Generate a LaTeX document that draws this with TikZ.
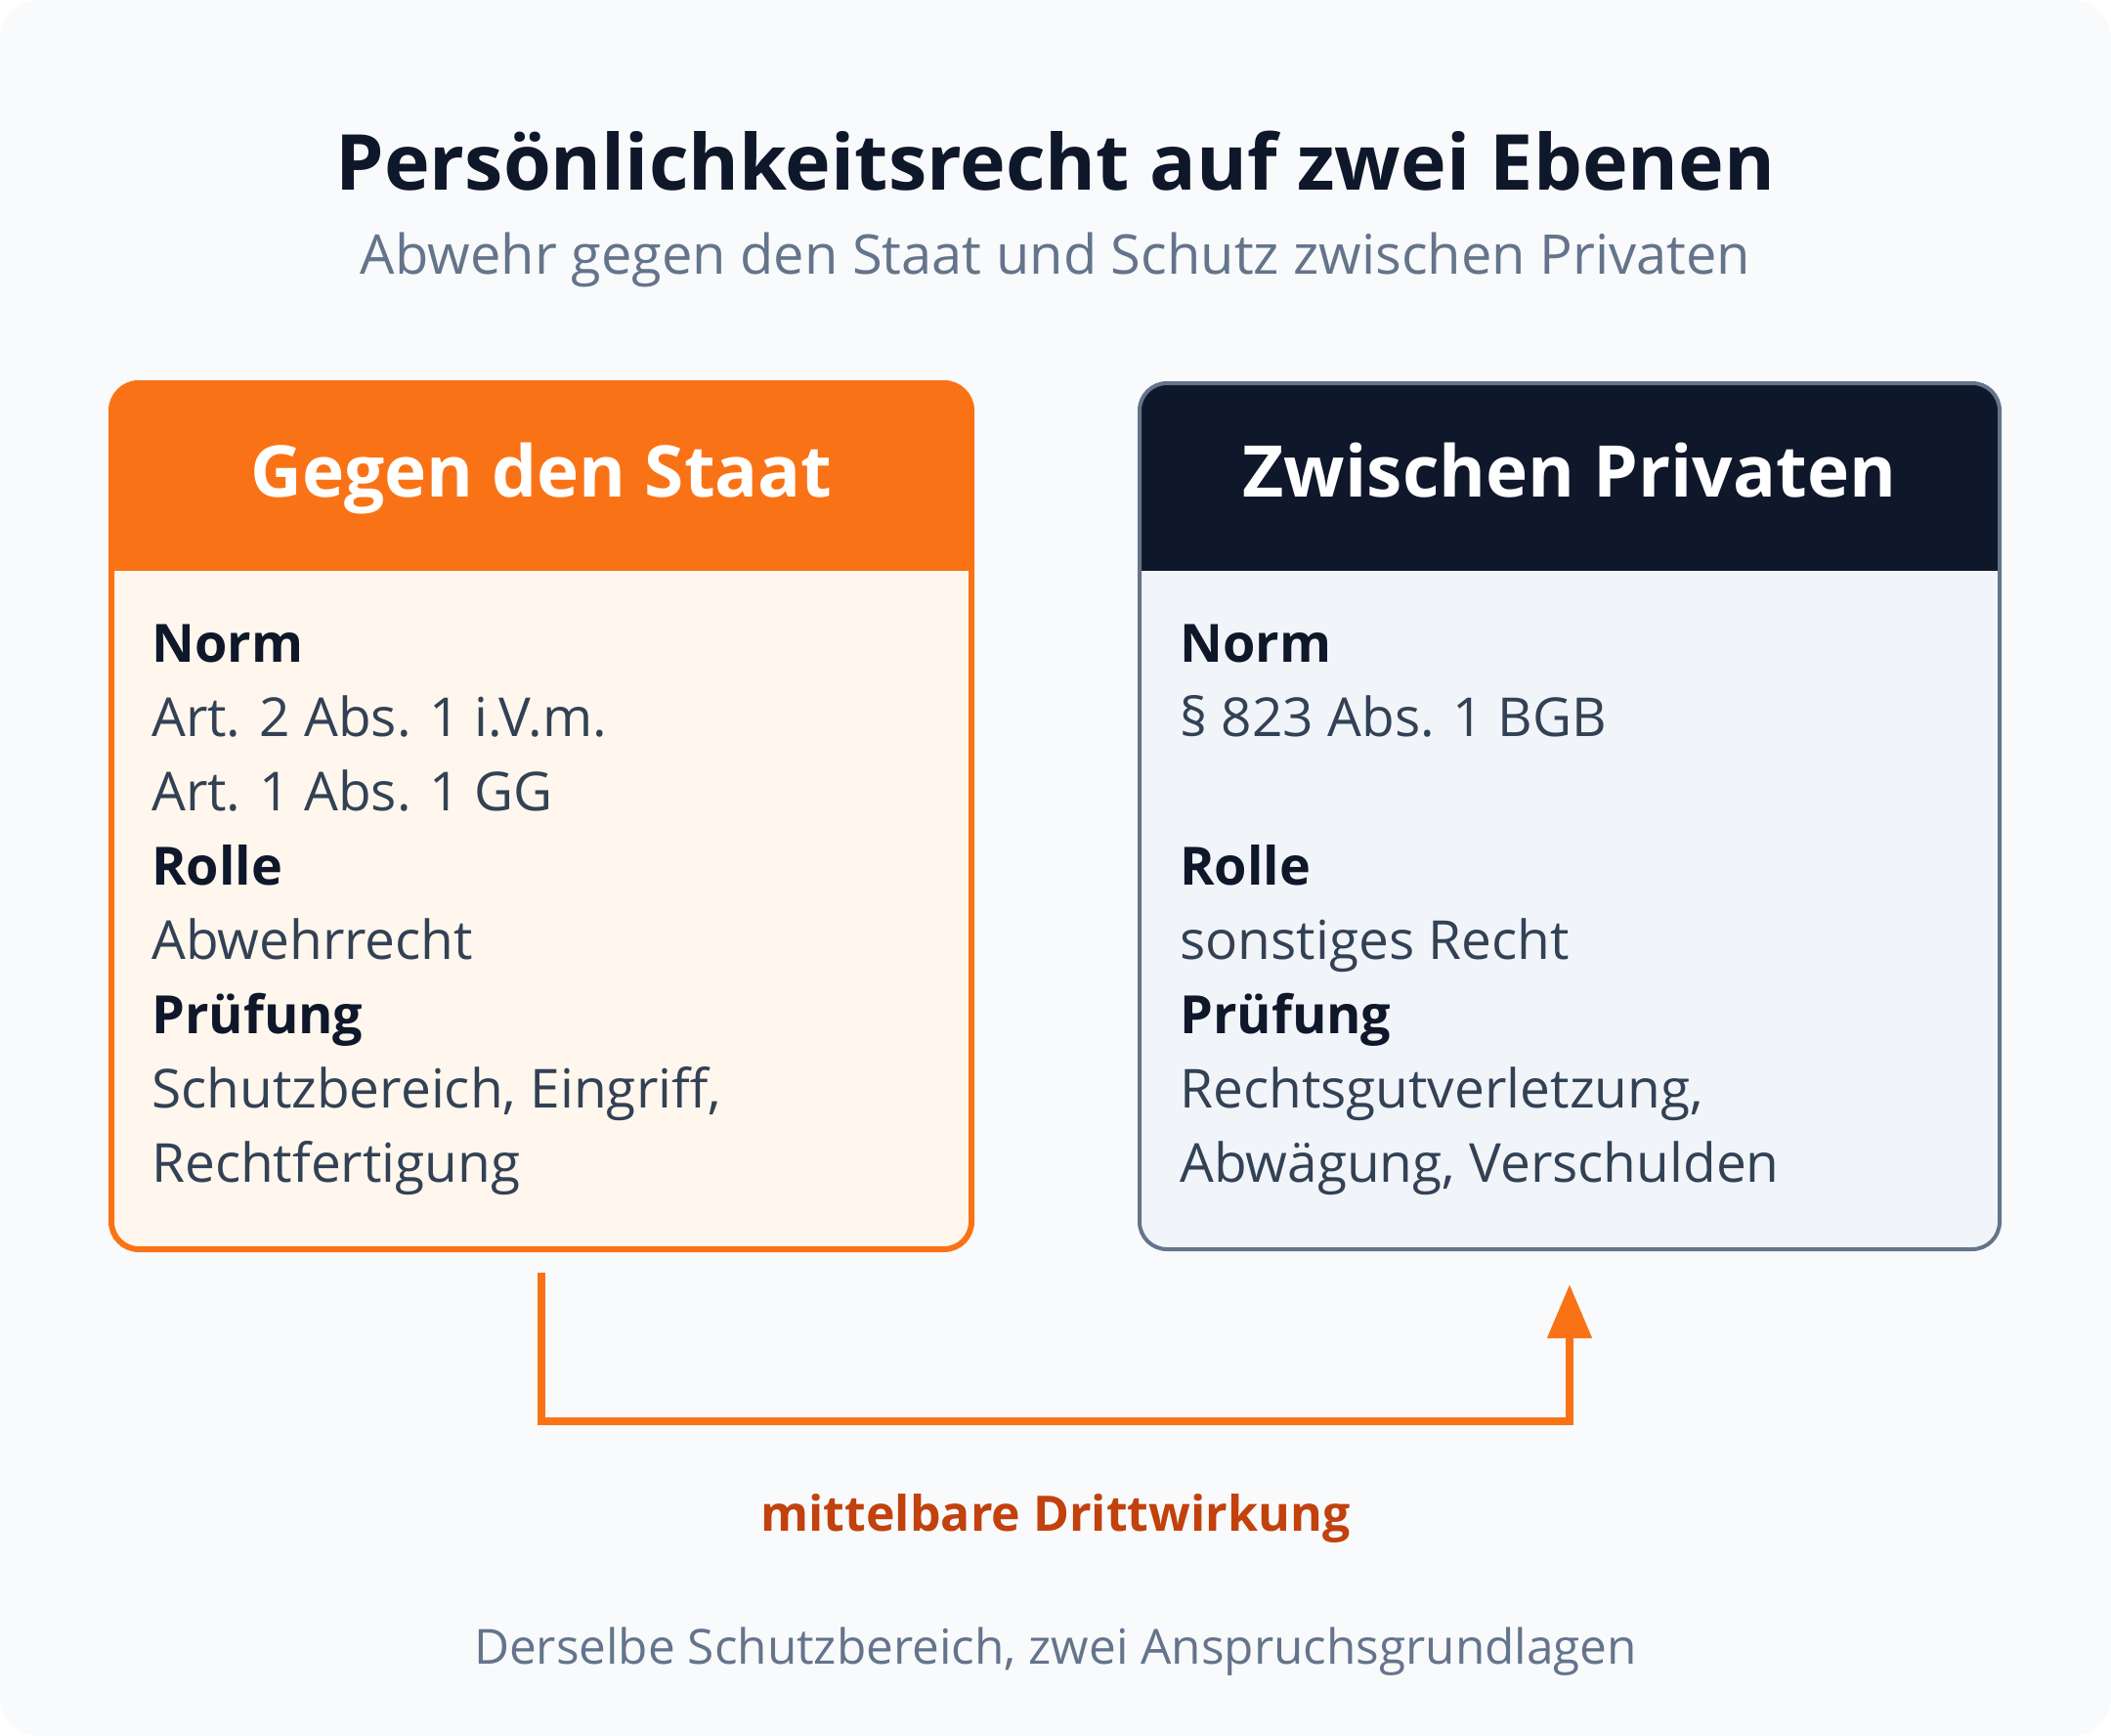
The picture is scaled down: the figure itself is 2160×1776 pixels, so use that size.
\documentclass[tikz,border=0pt]{standalone}
\usepackage{fontspec}
\setmainfont{Open Sans}
\usetikzlibrary{arrows.meta}

\definecolor{pagebg}{HTML}{F8FAFC}
\definecolor{ink}{HTML}{0F172A}
\definecolor{bodyink}{HTML}{334155}
\definecolor{muted}{HTML}{64748B}
\definecolor{orangeA}{HTML}{F97316}
\definecolor{orangeBg}{HTML}{FFF7ED}
\definecolor{orangeDk}{HTML}{C2410C}
\definecolor{slateBg}{HTML}{F1F5F9}

\begin{document}
\begin{tikzpicture}[x=1pt, y=-1pt,
    card/.style={rectangle, rounded corners=28pt, minimum width=880pt,
      minimum height=886pt, inner sep=0pt, outer sep=0pt},
    headtext/.style={anchor=base, inner sep=0pt, text=white,
      font=\fontsize{73}{86}\selectfont\bfseries},
    keytext/.style={anchor=base west, inner sep=0pt, text=ink,
      font=\fontsize{54}{64}\selectfont\bfseries},
    valtext/.style={anchor=base west, inner sep=0pt, text=bodyink,
      font=\fontsize{55}{65}\selectfont},
    link/.style={draw=orangeA, line width=8pt,
      -{Triangle[length=55pt,width=44pt]}}
  ]

    %% Two levels

    % Page
    \useasboundingbox (0,0) rectangle (2160,1776);
    \fill[white] (0,0) rectangle (2160,1776);
    \fill[pagebg, rounded corners=40pt] (0,0) rectangle (2160,1776);

    % Heading
    \node[anchor=base, inner sep=0pt, text=ink, font=\fontsize{79}{94}\selectfont\bfseries]
      (title) at (1080,195) {Persönlichkeitsrecht auf zwei Ebenen};
    \node[anchor=base, inner sep=0pt, text=muted, font=\fontsize{56}{67}\selectfont]
      (subtitle) at (1080,281) {Abwehr gegen den Staat und Schutz zwischen Privaten};

    % Left card
    \node[card, fill=orangeBg] (staat) at (554,835) {};
    \begin{scope}
      \clip[rounded corners=28pt] (staat.north west) rectangle (staat.south east);
      \fill[orangeA] (staat.north west) rectangle ([yshift=-192pt]staat.north east);
    \end{scope}
    \draw[orangeA, line width=6pt, rounded corners=28pt] (staat.north west) rectangle (staat.south east);
    \node[headtext] (staathead) at (554,508) {Gegen den Staat};

    \node[keytext] (staatnorm) at (155,677) {Norm};
    \node[valtext] (staatnorma) at (155,753) {Art. 2 Abs. 1 i.V.m.};
    \node[valtext] (staatnormb) at (155,829) {Art. 1 Abs. 1 GG};
    \node[keytext] (staatrolle) at (155,905) {Rolle};
    \node[valtext] (staatrollea) at (155,981) {Abwehrrecht};
    \node[keytext] (staatpruef) at (155,1057) {Prüfung};
    \node[valtext] (staatpruefa) at (155,1133) {Schutzbereich, Eingriff,};
    \node[valtext] (staatpruefb) at (155,1209) {Rechtfertigung};

    % Right card
    \node[card, fill=slateBg] (privat) at (1606,835) {};
    \begin{scope}
      \clip[rounded corners=28pt] (privat.north west) rectangle (privat.south east);
      \fill[ink] (privat.north west) rectangle ([yshift=-192pt]privat.north east);
    \end{scope}
    \draw[muted, line width=4pt, rounded corners=28pt] (privat.north west) rectangle (privat.south east);
    \node[headtext] (privathead) at (1606,508) {Zwischen Privaten};

    \node[keytext] (privatnorm) at (1207,677) {Norm};
    \node[valtext] (privatnorma) at (1207,753) {§ 823 Abs. 1 BGB};
    \node[keytext] (privatrolle) at (1207,905) {Rolle};
    \node[valtext] (privatrollea) at (1207,981) {sonstiges Recht};
    \node[keytext] (privatpruef) at (1207,1057) {Prüfung};
    \node[valtext] (privatpruefa) at (1207,1133) {Rechtsgutverletzung,};
    \node[valtext] (privatpruefb) at (1207,1209) {Abwägung, Verschulden};

    % Link
    \draw[link] ([yshift=-24pt]staat.south) -- ++(0,152) -| ([yshift=-36pt]privat.south);
    \node[anchor=base, inner sep=0pt, text=orangeDk, font=\fontsize{50}{60}\selectfont\bfseries]
      (drittwirkung) at (1080,1566) {mittelbare Drittwirkung};

    % Footer
    \node[anchor=base, inner sep=0pt, text=muted, font=\fontsize{49.5}{59}\selectfont]
      (footer) at (1080,1702) {Derselbe Schutzbereich, zwei Anspruchsgrundlagen};

\end{tikzpicture}
\end{document}
